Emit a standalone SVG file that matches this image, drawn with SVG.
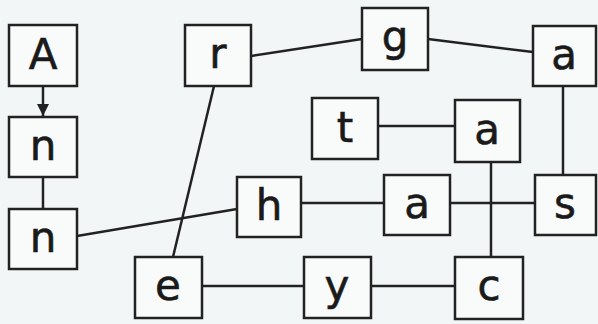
<svg xmlns="http://www.w3.org/2000/svg" width="598" height="324" viewBox="0 0 598 324">
<style>
.n rect{fill:#f9fafa;stroke:#222;stroke-width:2.5}
.n text{font-family:"DejaVu Sans",sans-serif;font-size:42px;fill:#1a1a1a;stroke:#1a1a1a;stroke-width:0.6;text-anchor:middle;dominant-baseline:central}
.e line{stroke:#222;stroke-width:2.5}
</style>
<defs><marker id="ar" viewBox="0 0 10 10" refX="10" refY="5" markerWidth="5" markerHeight="5" orient="auto"><path d="M0,0L10,5L0,10z" fill="#222"/></marker></defs>
<rect width="598" height="324" fill="#f3f6f7"/>
<g class="e">
<line x1="43" y1="86" x2="43" y2="116" marker-end="url(#ar)"/>
<line x1="43" y1="177" x2="43" y2="209"/>
<line x1="251" y1="56" x2="362" y2="39"/>
<line x1="428" y1="39" x2="533" y2="52"/>
<line x1="563" y1="86" x2="563" y2="175"/>
<line x1="378" y1="126" x2="455" y2="126"/>
<line x1="491" y1="162" x2="491" y2="257"/>
<line x1="301" y1="203" x2="384" y2="203"/>
<line x1="450" y1="203" x2="535" y2="203"/>
<line x1="77" y1="236" x2="237" y2="209"/>
<line x1="214" y1="86" x2="173" y2="257"/>
<line x1="202" y1="286" x2="304" y2="286"/>
<line x1="371" y1="286" x2="455" y2="286"/>
</g>
<g id="nA" class="n"><rect x="9" y="25" width="68" height="61"/><text x="43" y="54">A</text></g>
<g id="nN1" class="n"><rect x="9" y="117" width="68" height="60"/><text x="43" y="145">n</text></g>
<g id="nN2" class="n"><rect x="9" y="209" width="68" height="60"/><text x="43" y="237">n</text></g>
<g id="nR" class="n"><rect x="185" y="25" width="66" height="61"/><text x="218" y="53">r</text></g>
<g id="nG" class="n"><rect x="362" y="8" width="66" height="62"/><text x="395" y="36">g</text></g>
<g id="nA2" class="n"><rect x="533" y="26" width="63" height="60"/><text x="564" y="54">a</text></g>
<g id="nT" class="n"><rect x="312" y="98" width="66" height="61"/><text x="345" y="127">t</text></g>
<g id="nA3" class="n"><rect x="455" y="100" width="65" height="62"/><text x="487" y="129">a</text></g>
<g id="nH" class="n"><rect x="237" y="177" width="64" height="60"/><text x="269" y="205">h</text></g>
<g id="nA4" class="n"><rect x="384" y="175" width="66" height="60"/><text x="417" y="203">a</text></g>
<g id="nS" class="n"><rect x="535" y="175" width="61" height="60"/><text x="565" y="203">s</text></g>
<g id="nE" class="n"><rect x="135" y="257" width="67" height="61"/><text x="168" y="285">e</text></g>
<g id="nY" class="n"><rect x="304" y="257" width="67" height="61"/><text x="337" y="285">y</text></g>
<g id="nC" class="n"><rect x="455" y="257" width="68" height="62"/><text x="489" y="285">c</text></g>
</svg>
